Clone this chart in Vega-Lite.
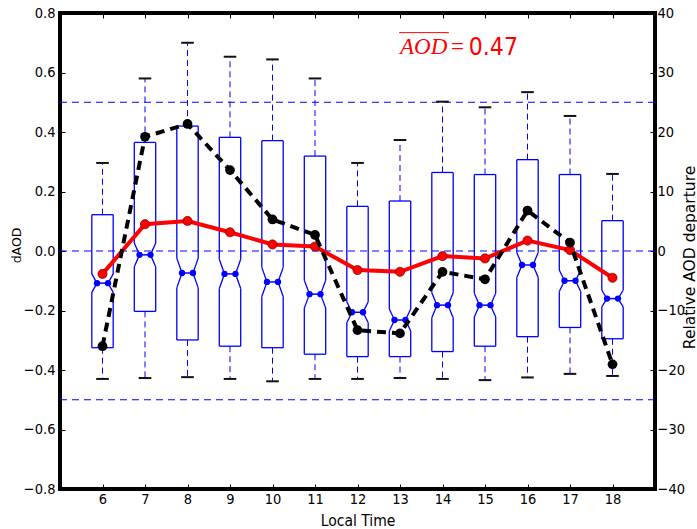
{
  "$schema": "https://vega.github.io/schema/vega-lite/v6.json",
  "width": 595,
  "height": 476,
  "autosize": {"type": "none"},
  "padding": {"left": 60, "top": 13, "right": 42, "bottom": 40},
  "background": "white",
  "config": {
    "view": {"stroke": "black", "strokeWidth": 4},
    "axis": {
      "grid": false,
      "domain": false,
      "ticks": true,
      "tickColor": "black",
      "tickWidth": 1,
      "tickSize": -5,
      "labelColor": "black",
      "labelFont": "DejaVu Sans Condensed, DejaVu Sans, sans-serif",
      "labelFontSize": 14.5,
      "titleColor": "black",
      "titleFontWeight": "normal"
    }
  },
  "data": {
    "values": [
      {"h": 6, "lo": -0.43, "q1": -0.325, "nLo": -0.139, "med": -0.108, "nHi": -0.077, "q3": 0.122, "hi": 0.296, "mean": -0.077, "rel": -16.0},
      {"h": 7, "lo": -0.427, "q1": -0.203, "nLo": -0.053, "med": -0.013, "nHi": 0.027, "q3": 0.365, "hi": 0.58, "mean": 0.09, "rel": 19.2},
      {"h": 8, "lo": -0.424, "q1": -0.299, "nLo": -0.124, "med": -0.074, "nHi": -0.024, "q3": 0.42, "hi": 0.70, "mean": 0.101, "rel": 21.35},
      {"h": 9, "lo": -0.43, "q1": -0.32, "nLo": -0.126, "med": -0.077, "nHi": -0.028, "q3": 0.382, "hi": 0.653, "mean": 0.063, "rel": 13.6},
      {"h": 10, "lo": -0.438, "q1": -0.325, "nLo": -0.153, "med": -0.104, "nHi": -0.055, "q3": 0.371, "hi": 0.644, "mean": 0.022, "rel": 5.3},
      {"h": 11, "lo": -0.43, "q1": -0.347, "nLo": -0.192, "med": -0.145, "nHi": -0.098, "q3": 0.319, "hi": 0.58, "mean": 0.015, "rel": 2.7},
      {"h": 12, "lo": -0.43, "q1": -0.355, "nLo": -0.241, "med": -0.206, "nHi": -0.171, "q3": 0.15, "hi": 0.296, "mean": -0.064, "rel": -13.3},
      {"h": 13, "lo": -0.427, "q1": -0.355, "nLo": -0.269, "med": -0.232, "nHi": -0.195, "q3": 0.168, "hi": 0.373, "mean": -0.07, "rel": -13.85},
      {"h": 14, "lo": -0.43, "q1": -0.338, "nLo": -0.224, "med": -0.182, "nHi": -0.14, "q3": 0.264, "hi": 0.502, "mean": -0.017, "rel": -3.5},
      {"h": 15, "lo": -0.434, "q1": -0.32, "nLo": -0.222, "med": -0.182, "nHi": -0.142, "q3": 0.257, "hi": 0.483, "mean": -0.025, "rel": -4.75},
      {"h": 16, "lo": -0.425, "q1": -0.288, "nLo": -0.089, "med": -0.047, "nHi": -0.005, "q3": 0.307, "hi": 0.534, "mean": 0.035, "rel": 6.8},
      {"h": 17, "lo": -0.413, "q1": -0.257, "nLo": -0.136, "med": -0.1, "nHi": -0.064, "q3": 0.257, "hi": 0.454, "mean": 0.003, "rel": 1.4},
      {"h": 18, "lo": -0.42, "q1": -0.295, "nLo": -0.188, "med": -0.16, "nHi": -0.132, "q3": 0.102, "hi": 0.259, "mean": -0.09, "rel": -19.05}
    ]
  },
  "layer": [
    {
      "layer": [
        {
          "data": {"values": [{"v": 0.5}, {"v": 0}, {"v": -0.5}]},
          "mark": {"type": "rule", "color": "#0000ff", "strokeWidth": 1, "strokeDash": [7, 5]},
          "encoding": {
            "y": {
              "field": "v", "type": "quantitative",
              "scale": {"domain": [-0.8, 0.8], "nice": false, "zero": false},
              "axis": {
                "orient": "left",
                "values": [-0.8, -0.6, -0.4, -0.2, 0, 0.2, 0.4, 0.6, 0.8],
                "format": ".1f",
                "labelPadding": 10,
                "title": "dAOD",
                "titleFont": "DejaVu Sans",
                "titleFontSize": 12.5,
                "titleAngle": 270,
                "titleBaseline": "middle",
                "titleAlign": "center",
                "titleX": -44,
                "titleY": 232
              }
            }
          }
        },
        {
          "mark": {"type": "rule", "color": "#0000ff", "strokeWidth": 1, "strokeDash": [6, 4]},
          "encoding": {
            "x": {
              "field": "h", "type": "quantitative",
              "scale": {"domain": [5, 19], "nice": false, "zero": false},
              "axis": {
                "orient": "bottom",
                "values": [6, 7, 8, 9, 10, 11, 12, 13, 14, 15, 16, 17, 18],
                "format": "d",
                "labelPadding": 8,
                "title": "Local Time",
                "titleFont": "DejaVu Sans Condensed, DejaVu Sans, sans-serif",
                "titleFontSize": 15.5,
                "titleBaseline": "alphabetic",
                "titleY": 36
              }
            },
            "y": {"field": "q3", "type": "quantitative"},
            "y2": {"field": "hi"}
          }
        },
        {
          "mark": {"type": "rule", "color": "#0000ff", "strokeWidth": 1, "strokeDash": [6, 4]},
          "encoding": {
            "x": {"field": "h", "type": "quantitative"},
            "y": {"field": "q1", "type": "quantitative"},
            "y2": {"field": "lo"}
          }
        },
        {
          "mark": {"type": "rule", "color": "#111111", "strokeWidth": 2, "xOffset": -6.3, "x2Offset": 6.3},
          "encoding": {
            "x": {"field": "h", "type": "quantitative"},
            "x2": {"field": "h"},
            "y": {"field": "hi", "type": "quantitative"}
          }
        },
        {
          "mark": {"type": "rule", "color": "#111111", "strokeWidth": 2, "xOffset": -6.3, "x2Offset": 6.3},
          "encoding": {
            "x": {"field": "h", "type": "quantitative"},
            "x2": {"field": "h"},
            "y": {"field": "lo", "type": "quantitative"}
          }
        },
        {
          "mark": {"type": "rule", "color": "#0000ff", "strokeWidth": 1.3, "xOffset": -10.7, "x2Offset": 10.7},
          "encoding": {
            "x": {"field": "h", "type": "quantitative"},
            "x2": {"field": "h"},
            "y": {"field": "q3", "type": "quantitative"}
          }
        },
        {
          "mark": {"type": "rule", "color": "#0000ff", "strokeWidth": 1.3, "xOffset": -10.7, "x2Offset": 10.7},
          "encoding": {
            "x": {"field": "h", "type": "quantitative"},
            "x2": {"field": "h"},
            "y": {"field": "q1", "type": "quantitative"}
          }
        },
        {
          "mark": {"type": "rule", "color": "#0000ff", "strokeWidth": 1.3, "xOffset": -10.7},
          "encoding": {
            "x": {"field": "h", "type": "quantitative"},
            "y": {"field": "q3", "type": "quantitative"},
            "y2": {"field": "nHi"}
          }
        },
        {
          "mark": {"type": "rule", "color": "#0000ff", "strokeWidth": 1.3, "xOffset": 10.7},
          "encoding": {
            "x": {"field": "h", "type": "quantitative"},
            "y": {"field": "q3", "type": "quantitative"},
            "y2": {"field": "nHi"}
          }
        },
        {
          "mark": {"type": "rule", "color": "#0000ff", "strokeWidth": 1.3, "xOffset": -10.7},
          "encoding": {
            "x": {"field": "h", "type": "quantitative"},
            "y": {"field": "nLo", "type": "quantitative"},
            "y2": {"field": "q1"}
          }
        },
        {
          "mark": {"type": "rule", "color": "#0000ff", "strokeWidth": 1.3, "xOffset": 10.7},
          "encoding": {
            "x": {"field": "h", "type": "quantitative"},
            "y": {"field": "nLo", "type": "quantitative"},
            "y2": {"field": "q1"}
          }
        },
        {
          "mark": {"type": "rule", "color": "#0000ff", "strokeWidth": 1.3, "xOffset": -10.7, "x2Offset": -5.5},
          "encoding": {
            "x": {"field": "h", "type": "quantitative"},
            "x2": {"field": "h"},
            "y": {"field": "nHi", "type": "quantitative"},
            "y2": {"field": "med"}
          }
        },
        {
          "mark": {"type": "rule", "color": "#0000ff", "strokeWidth": 1.3, "xOffset": 10.7, "x2Offset": 5.5},
          "encoding": {
            "x": {"field": "h", "type": "quantitative"},
            "x2": {"field": "h"},
            "y": {"field": "nHi", "type": "quantitative"},
            "y2": {"field": "med"}
          }
        },
        {
          "mark": {"type": "rule", "color": "#0000ff", "strokeWidth": 1.3, "xOffset": -10.7, "x2Offset": -5.5},
          "encoding": {
            "x": {"field": "h", "type": "quantitative"},
            "x2": {"field": "h"},
            "y": {"field": "nLo", "type": "quantitative"},
            "y2": {"field": "med"}
          }
        },
        {
          "mark": {"type": "rule", "color": "#0000ff", "strokeWidth": 1.3, "xOffset": 10.7, "x2Offset": 5.5},
          "encoding": {
            "x": {"field": "h", "type": "quantitative"},
            "x2": {"field": "h"},
            "y": {"field": "nLo", "type": "quantitative"},
            "y2": {"field": "med"}
          }
        },
        {
          "mark": {"type": "rule", "color": "#0000ff", "strokeWidth": 1.5, "xOffset": -5.5, "x2Offset": 5.5},
          "encoding": {
            "x": {"field": "h", "type": "quantitative"},
            "x2": {"field": "h"},
            "y": {"field": "med", "type": "quantitative"}
          }
        },
        {
          "mark": {"type": "point", "shape": "circle", "filled": true, "color": "#0000ff", "size": 40, "opacity": 1, "xOffset": -5.5},
          "encoding": {
            "x": {"field": "h", "type": "quantitative"},
            "y": {"field": "med", "type": "quantitative"}
          }
        },
        {
          "mark": {"type": "point", "shape": "circle", "filled": true, "color": "#0000ff", "size": 40, "opacity": 1, "xOffset": 5.5},
          "encoding": {
            "x": {"field": "h", "type": "quantitative"},
            "y": {"field": "med", "type": "quantitative"}
          }
        },
        {
          "mark": {"type": "line", "color": "#ff0000", "strokeWidth": 4},
          "encoding": {
            "x": {"field": "h", "type": "quantitative"},
            "y": {"field": "mean", "type": "quantitative"}
          }
        },
        {
          "mark": {"type": "point", "shape": "circle", "filled": true, "fill": "#ff0000", "stroke": "#550000", "strokeWidth": 0.6, "size": 85, "opacity": 1},
          "encoding": {
            "x": {"field": "h", "type": "quantitative"},
            "y": {"field": "mean", "type": "quantitative"}
          }
        },
        {
          "data": {"values": [{"t": "AOD"}]},
          "mark": {"type": "text", "align": "left", "baseline": "alphabetic", "font": "Liberation Serif", "fontStyle": "italic", "fontSize": 23, "color": "#ff0000"},
          "encoding": {
            "x": {"datum": 13.0, "type": "quantitative"},
            "y": {"datum": 0.661, "type": "quantitative"},
            "text": {"field": "t"}
          }
        },
        {
          "data": {"values": [{"t": "="}]},
          "mark": {"type": "text", "align": "left", "baseline": "alphabetic", "font": "Liberation Serif", "fontSize": 23, "color": "#ff0000"},
          "encoding": {
            "x": {"datum": 14.2, "type": "quantitative"},
            "y": {"datum": 0.661, "type": "quantitative"},
            "text": {"field": "t"}
          }
        },
        {
          "data": {"values": [{"t": "0.47"}]},
          "mark": {"type": "text", "align": "left", "baseline": "alphabetic", "font": "DejaVu Sans Condensed, DejaVu Sans, sans-serif", "fontSize": 24.5, "color": "#ff0000"},
          "encoding": {
            "x": {"datum": 14.62, "type": "quantitative"},
            "y": {"datum": 0.659, "type": "quantitative"},
            "text": {"field": "t"}
          }
        },
        {
          "data": {"values": [{"t": "overline"}]},
          "mark": {"type": "rule", "color": "#ff0000", "strokeWidth": 1},
          "encoding": {
            "x": {"datum": 12.98, "type": "quantitative"},
            "x2": {"datum": 14.15},
            "y": {"datum": 0.734, "type": "quantitative"}
          }
        }
      ]
    },
    {
      "layer": [
        {
          "mark": {"type": "line", "color": "black", "strokeWidth": 4, "strokeDash": [9, 6]},
          "encoding": {
            "x": {
              "field": "h", "type": "quantitative",
              "scale": {"domain": [5, 19], "nice": false, "zero": false},
              "axis": {
                "orient": "top",
                "values": [6, 7, 8, 9, 10, 11, 12, 13, 14, 15, 16, 17, 18],
                "labels": false,
                "title": null
              }
            },
            "y": {
              "field": "rel", "type": "quantitative",
              "scale": {"domain": [-40, 40], "nice": false, "zero": false},
              "axis": {
                "orient": "right",
                "values": [-40, -30, -20, -10, 0, 10, 20, 30, 40],
                "format": "d",
                "labelPadding": 7,
                "title": "Relative AOD departure",
                "titleFont": "DejaVu Sans",
                "titleFontSize": 15.5,
                "titleAngle": 270,
                "titleBaseline": "middle",
                "titleAlign": "center",
                "titleX": 34,
                "titleY": 244
              }
            }
          }
        },
        {
          "mark": {"type": "point", "shape": "circle", "filled": true, "color": "black", "size": 95, "opacity": 1},
          "encoding": {
            "x": {"field": "h", "type": "quantitative"},
            "y": {"field": "rel", "type": "quantitative"}
          }
        }
      ]
    }
  ],
  "resolve": {"scale": {"y": "independent"}, "axis": {"x": "independent"}}
}
